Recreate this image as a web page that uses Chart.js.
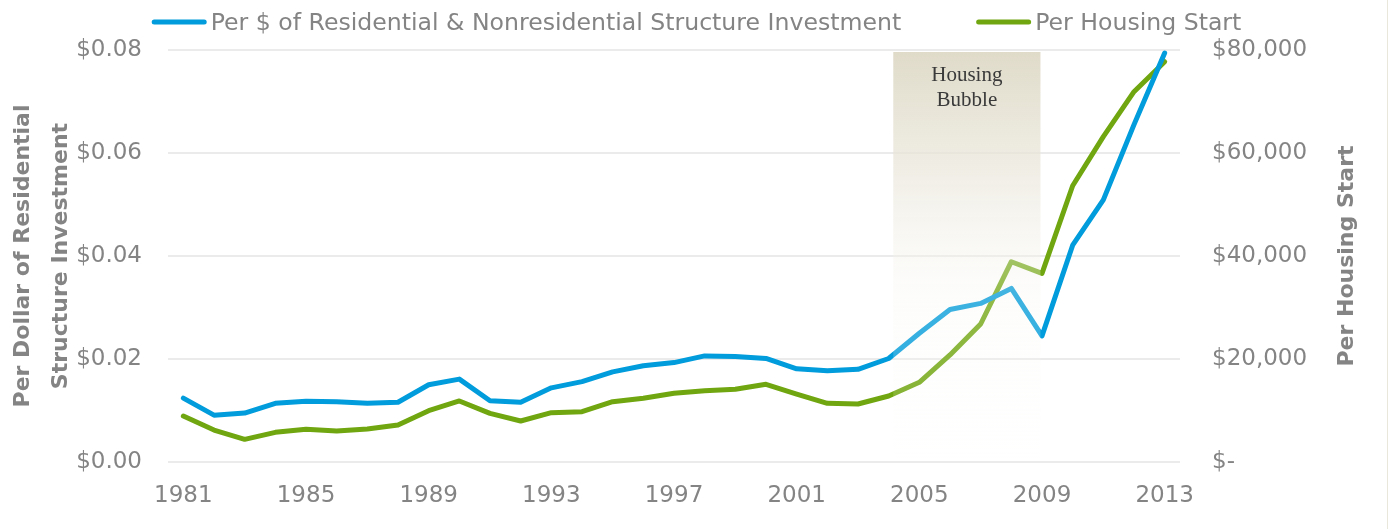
<!DOCTYPE html>
<html>
<head>
<meta charset="utf-8">
<script src="https://cdn.jsdelivr.net/npm/chart.js@4.4.1/dist/chart.umd.min.js"></script>
<style>
  body { margin: 0; background: #fff; }
</style>
</head>
<body>
<canvas id="costChart" width="1393" height="529"></canvas>
<script>
const years = ['1981', '1982', '1983', '1984', '1985', '1986', '1987', '1988', '1989', '1990',
  '1991', '1992', '1993', '1994', '1995', '1996', '1997', '1998', '1999', '2000',
  '2001', '2002', '2003', '2004', '2005', '2006', '2007', '2008', '2009', '2010',
  '2011', '2012', '2013'];

// cost per dollar of residential & nonresidential structure investment
const perDollar = [0.0124, 0.0091, 0.0095, 0.0114, 0.0118, 0.0117, 0.0114, 0.0116, 0.0150, 0.0161,
  0.0119, 0.0116, 0.0144, 0.0156, 0.0175, 0.0187, 0.0193, 0.0206, 0.0205, 0.0201,
  0.0181, 0.0177, 0.0180, 0.0201, 0.0250, 0.0296, 0.0308, 0.0337, 0.0245, 0.0421,
  0.0509, 0.0655, 0.0794];

// cost per housing start
const perStart = [8930, 6210, 4400, 5760, 6340, 6020, 6410, 7180, 9970, 11850,
  9450, 7960, 9580, 9770, 11720, 12370, 13340, 13850, 14110, 15090,
  13200, 11390, 11260, 12820, 15480, 20780, 26800, 38890, 36640, 53650,
  63170, 71900, 77730];

const leftTicks = ['$0.00', '$0.02', '$0.04', '$0.06', '$0.08'];
const rightTicks = ['$-', '$20,000', '$40,000', '$60,000', '$80,000'];
const shownYears = ['1981', '1985', '1989', '1993', '1997', '2001', '2005', '2009', '2013'];

const bubbleSpan = [2004.15, 2008.95];
const bubbleText = ['Housing', 'Bubble'];

const BLUE = '#009cdb';
const GREEN = '#70a60f';
const GREY = '#848484';
const FONT = 'DejaVu Sans';

// shaded bubble band, legend and right-hand title
const decor = {
  id: 'decor',
  afterDatasetsDraw(chart) {
    const { ctx, chartArea, scales } = chart;
    const x = scales.x;
    const x0 = x.getPixelForValue(bubbleSpan[0] - Number(years[0]));
    const x1 = x.getPixelForValue(bubbleSpan[1] - Number(years[0]));
    const top = chartArea.top + 2;
    const bottom = chartArea.bottom - 2;
    const g = ctx.createLinearGradient(0, top, 0, bottom);
    g.addColorStop(0, 'rgba(222,217,198,0.95)');
    g.addColorStop(0.3, 'rgba(234,231,219,0.7)');
    g.addColorStop(0.6, 'rgba(247,246,241,0.25)');
    g.addColorStop(1, 'rgba(254,254,253,0.1)');
    ctx.save();
    ctx.fillStyle = g;
    ctx.fillRect(x0, top, x1 - x0, bottom - top);
    ctx.fillStyle = '#3a3a3a';
    ctx.font = '21px "Liberation Serif"';
    ctx.textAlign = 'center';
    ctx.textBaseline = 'middle';
    bubbleText.forEach((t, i) => ctx.fillText(t, (x0 + x1) / 2, top + 23 + i * 25));
    ctx.restore();
  },
  afterDraw(chart) {
    const { ctx, chartArea, width } = chart;
    ctx.save();
    // legend
    ctx.font = '23.6px "' + FONT + '"';
    const sample = 55, gap = 4, between = 75;
    const items = chart.data.datasets.map(ds => ({
      text: ds.label, color: ds.borderColor, w: sample + gap + ctx.measureText(ds.label).width
    }));
    const total = items.reduce((s, it) => s + it.w, 0) + between * (items.length - 1);
    let cx = (width - total) / 2;
    items.forEach(it => {
      ctx.strokeStyle = it.color;
      ctx.lineWidth = 5;
      ctx.lineCap = 'round';
      ctx.beginPath();
      ctx.moveTo(cx + 2.5, 22);
      ctx.lineTo(cx + sample - 2.5, 22);
      ctx.stroke();
      ctx.fillStyle = GREY;
      ctx.textBaseline = 'alphabetic';
      ctx.textAlign = 'left';
      ctx.fillText(it.text, cx + sample + gap, 30);
      cx += it.w + between;
    });
    // right axis title, reading bottom to top
    ctx.font = 'bold 22px "' + FONT + '"';
    ctx.textAlign = 'center';
    ctx.textBaseline = 'middle';
    ctx.translate(1347, (chartArea.top + chartArea.bottom) / 2);
    ctx.rotate(-Math.PI / 2);
    ctx.fillText('Per Housing Start', 0, 0);
    ctx.restore();
    // thin frame line on the right edge
    ctx.save();
    ctx.fillStyle = '#e9e6dc';
    ctx.fillRect(width - 6, 0, 1, chart.height);
    ctx.restore();
  }
};

new Chart(document.getElementById('costChart'), {
  type: 'line',
  data: {
    labels: years,
    datasets: [{
      label: 'Per $ of Residential & Nonresidential Structure Investment',
      data: perDollar,
      yAxisID: 'yLeft',
      borderColor: BLUE,
      backgroundColor: BLUE,
      borderWidth: 5,
      borderCapStyle: 'round',
      borderJoinStyle: 'round',
      pointRadius: 0,
      tension: 0
    }, {
      label: 'Per Housing Start',
      data: perStart,
      yAxisID: 'yRight',
      borderColor: GREEN,
      backgroundColor: GREEN,
      borderWidth: 5,
      borderCapStyle: 'round',
      borderJoinStyle: 'round',
      pointRadius: 0,
      tension: 0
    }]
  },
  options: {
    responsive: false,
    animation: false,
    layout: { padding: { top: 50, left: 0, right: 0, bottom: 0 } },
    plugins: {
      legend: { display: false },
      tooltip: { enabled: false }
    },
    scales: {
      x: {
        offset: true,
        grid: { display: false, drawTicks: false },
        border: { display: false },
        ticks: {
          autoSkip: false,
          maxRotation: 0,
          padding: 20,
          color: GREY,
          font: { family: FONT, size: 23 },
          callback: function (v) {
            const y = this.getLabelForValue(v);
            return shownYears.includes(y) ? y : '';
          }
        },
        afterFit: s => { s.height = 67; }
      },
      yLeft: {
        position: 'left',
        min: 0,
        max: 0.08,
        grid: { color: '#ebebeb', lineWidth: 2, drawTicks: false },
        border: { display: false },
        ticks: {
          stepSize: 0.02,
          padding: 26,
          color: GREY,
          font: { family: FONT, size: 23 },
          callback: (v, i) => leftTicks[i]
        },
        title: {
          display: true,
          text: ['Per Dollar of Residential', 'Structure Investment'],
          color: GREY,
          padding: { top: 4, bottom: 0 },
          font: { family: FONT, size: 22, weight: 'bold', lineHeight: 38 / 22 }
        },
        afterFit: s => { s.width = 168; }
      },
      yRight: {
        position: 'right',
        min: 0,
        max: 80000,
        grid: { display: false, drawTicks: false },
        border: { display: false },
        ticks: {
          stepSize: 20000,
          padding: 32,
          color: GREY,
          font: { family: FONT, size: 23 },
          callback: (v, i) => rightTicks[i]
        },
        afterFit: s => { s.width = 213; }
      }
    }
  },
  plugins: [decor]
});
</script>
</body>
</html>
